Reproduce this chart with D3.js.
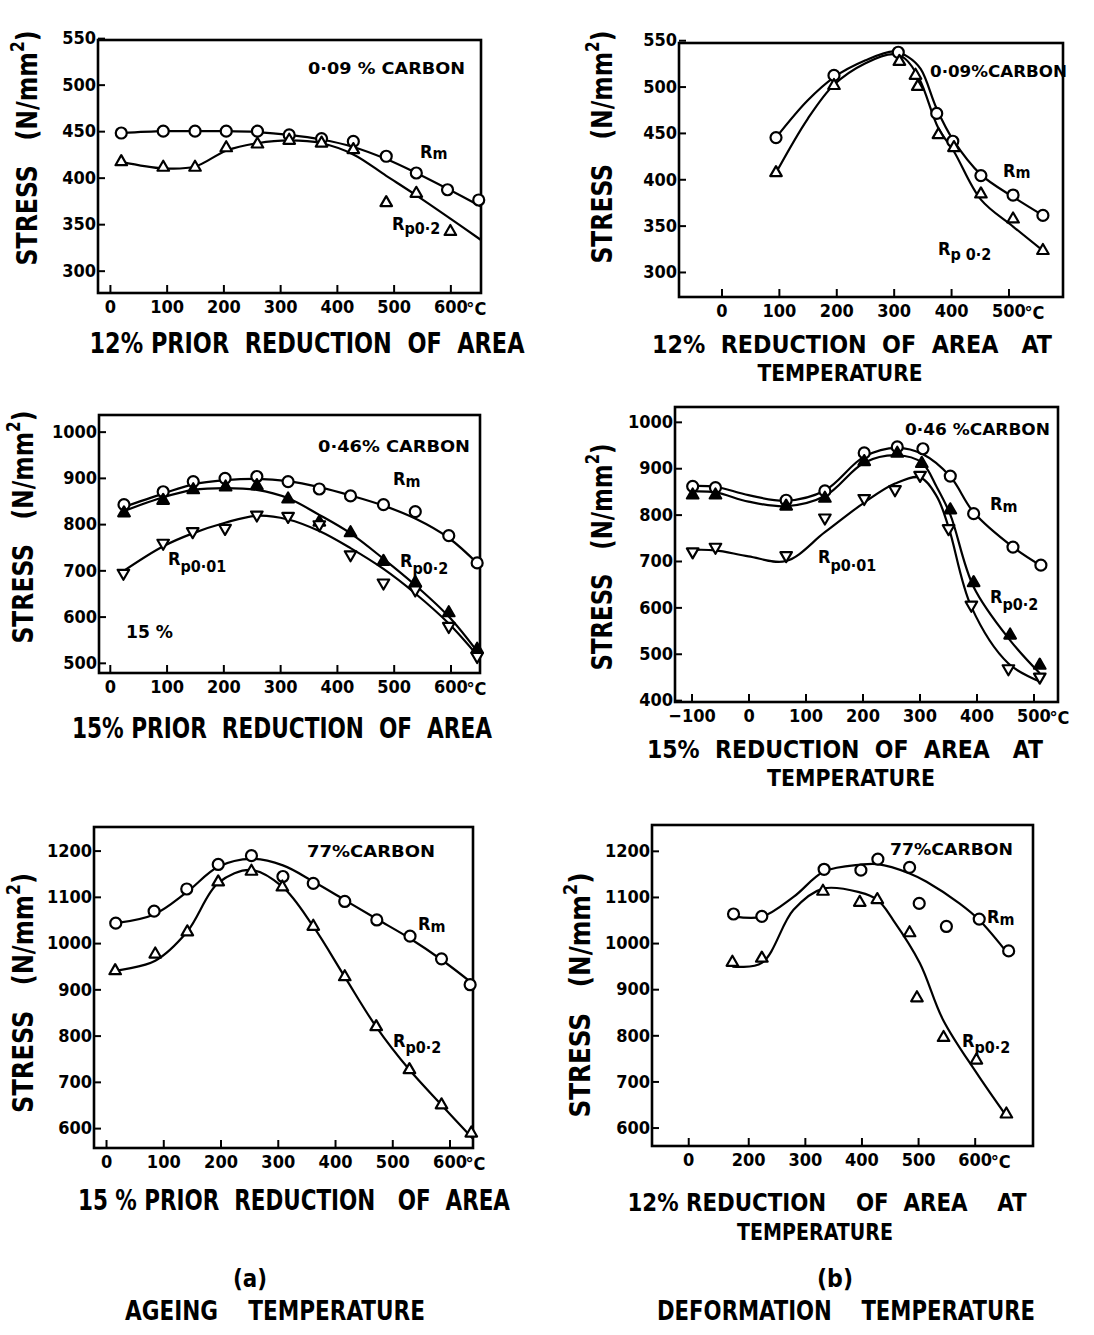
<!DOCTYPE html>
<html>
<head>
<meta charset="utf-8">
<script src="https://cdn.jsdelivr.net/npm/d3@7"></script>
<style>
  body { margin: 0; background: #fff; }
  svg text {
    font-family: "DejaVu Sans Condensed", "DejaVu Sans", sans-serif;
    font-weight: bold;
    font-stretch: condensed;
    fill: #000;
    white-space: pre;
  }
</style>
</head>
<body>
<svg id="fig" width="1094" height="1335"></svg>
<script>
'use strict';

// ---- tick values ----
var a1XTicks = [0, 100, 200, 300, 400, 500, 600];
var a1YTicks = [300, 350, 400, 450, 500, 550];
var b1XTicks = [0, 100, 200, 300, 400, 500];
var b1YTicks = [300, 350, 400, 450, 500, 550];
var a2XTicks = [0, 100, 200, 300, 400, 500, 600];
var a2YTicks = [500, 600, 700, 800, 900, 1000];
var b2XTicks = [-100, 0, 100, 200, 300, 400, 500];
var b2YTicks = [400, 500, 600, 700, 800, 900, 1000];
var a3XTicks = [0, 100, 200, 300, 400, 500, 600];
var a3YTicks = [600, 700, 800, 900, 1000, 1100, 1200];
var b3XTicks = [94, 200, 300, 400, 500, 600];
var b3XTickLabels = ["0", "200", "300", "400", "500", "600"];
var b3YTicks = [600, 700, 800, 900, 1000, 1100, 1200];

// ---- 0.09 % carbon, prior reduction (temp, stress) ----
var a1RmPts = [[20,448],[94,450],[150,450],[205,450],[260,450],[316,446],[373,442],[429,439],[487,423],[540,405],[595,387],[650,376]];
var a1RmCurve = [[20,448],[94,450],[150,450],[205,450],[260,449],[316,446],[373,441],[429,433],[487,420],[540,405],[595,388],[654,369]];
var a1Rp02Pts = [[20,417],[94,411],[150,411],[205,432],[260,436],[316,440],[373,437],[429,430],[487,373],[540,383],[600,342]];
var a1Rp02Curve = [[20,417],[94,410],[150,412],[205,429],[260,437],[316,440],[373,437],[429,425],[487,402],[540,381],[600,356],[654,333]];

// ---- 0.09 % carbon, at temperature ----
var b1RmPts = [[95,445],[196,512],[308,537],[375,471],[403,441],[452,404],[508,383],[560,361]];
var b1RmCurve = [[95,445],[150,485],[196,510],[250,528],[300,538],[325,532],[347,519],[375,476],[403,443],[452,405],[508,381],[560,361]];
var b1Rp02Pts = [[95,407],[196,501],[310,527],[338,512],[342,500],[378,448],[405,434],[452,384],[508,357],[560,323]];
var b1Rp02Curve = [[95,407],[150,465],[196,502],[250,525],[300,535],[320,530],[345,508],[378,455],[405,430],[452,378],[508,349],[560,323]];

// ---- 0.46 % carbon, prior reduction ----
var a2RmPts = [[25,842],[94,870],[147,892],[203,899],[259,903],[314,892],[369,876],[424,861],[482,842],[538,827],[597,775],[647,716]];
var a2RmCurve = [[20,835],[94,866],[147,886],[203,895],[259,898],[314,893],[369,880],[424,862],[482,840],[538,812],[597,770],[650,712]];
var a2Rp02Pts = [[25,824],[94,851],[147,874],[204,880],[259,883],[314,854],[369,804],[424,781],[482,719],[538,673],[597,608],[647,529]];
var a2Rp02Curve = [[20,826],[94,858],[147,874],[204,878],[259,874],[314,856],[369,820],[424,780],[482,725],[538,668],[597,600],[650,520]];
var a2Rp001Pts = [[24,694],[94,759],[146,784],[203,791],[259,820],[314,817],[369,799],[424,734],[482,673],[538,658],[597,579],[647,514]];
var a2Rp001Curve = [[20,695],[94,752],[146,780],[203,803],[259,818],[314,810],[369,785],[424,748],[482,703],[538,650],[597,585],[650,512]];

// ---- 0.46 % carbon, at temperature ----
var b2RmPts = [[-98,861],[-58,858],[66,831],[134,851],[203,933],[261,946],[306,942],[354,883],[395,802],[464,730],[513,691]];
var b2RmCurve = [[-98,862],[-58,860],[0,842],[66,830],[134,852],[203,925],[261,944],[306,930],[354,882],[395,805],[464,730],[513,690]];
var b2Rp02Pts = [[-98,842],[-58,842],[66,818],[134,835],[203,914],[261,932],[304,910],[354,810],[395,653],[459,540],[511,475]];
var b2Rp02Curve = [[-98,850],[-58,848],[0,828],[66,818],[134,840],[203,912],[261,928],[304,912],[330,860],[354,800],[395,644],[459,529],[511,458]];
var b2Rp001Pts = [[-98,720],[-58,730],[66,712],[134,793],[203,835],[257,854],[301,885],[351,770],[391,605],[456,468],[511,450]];
var b2Rp001Curve = [[-98,724],[-58,723],[0,710],[66,700],[134,762],[203,826],[257,867],[301,880],[330,840],[351,773],[391,601],[456,479],[511,440]];

// ---- 0.77 % carbon, prior reduction ----
var a3RmPts = [[17,1043],[84,1069],[141,1117],[196,1170],[254,1189],[309,1144],[362,1129],[417,1090],[473,1050],[531,1015],[586,966],[636,910]];
var a3RmCurve = [[17,1043],[84,1062],[141,1110],[196,1165],[254,1182],[309,1168],[362,1133],[417,1093],[473,1052],[531,1010],[586,964],[641,912]];
var a3Rp02Pts = [[16,940],[86,976],[142,1024],[196,1132],[254,1155],[308,1121],[362,1036],[417,927],[472,819],[530,726],[586,650],[638,589]];
var a3Rp02Curve = [[16,940],[86,962],[142,1025],[196,1130],[254,1158],[308,1122],[362,1036],[417,927],[472,819],[530,726],[586,650],[641,577]];

// ---- 0.77 % carbon, at temperature ----
var b3RmPts = [[174,1063],[224,1058],[334,1160],[399,1158],[429,1182],[485,1164],[502,1086],[550,1036],[608,1052],[660,983]];
var b3RmCurve = [[174,1058],[224,1057],[280,1100],[334,1155],[399,1170],[429,1171],[485,1151],[515,1133],[573,1086],[608,1050],[660,975]];
var b3Rp02Pts = [[172,958],[224,967],[332,1112],[397,1088],[428,1094],[485,1022],[498,881],[545,795],[603,746],[656,629]];
var b3Rp02Curve = [[172,949],[224,957],[280,1072],[332,1118],[397,1110],[428,1094],[456,1050],[503,957],[544,834],[603,719],[656,625]];

var panels = [
  { box: [98, 40, 481, 293], xDom: [-21, 654], yDom: [276, 548],
    xTicks: a1XTicks, yTicks: a1YTicks,
    series: [[a1RmCurve, a1RmPts, "circle"], [a1Rp02Curve, a1Rp02Pts, "tri"]],
    ytitle: [27, 148, 235], xtitle: [["12% PRIOR  REDUCTION  OF  AREA", 307, 353, 435]],
    carbon: ["0·09 % CARBON", 308, 74, 157],
    labels: [["m", 420, 158, 1], ["p0·2", 392, 230, 4]] },
  { box: [679, 43, 1063, 297], xDom: [-74, 595], yDom: [273, 547],
    xTicks: b1XTicks, yTicks: b1YTicks,
    series: [[b1RmCurve, b1RmPts, "circle"], [b1Rp02Curve, b1Rp02Pts, "tri"]],
    ytitle: [602, 147, 233],
    xtitle: [["12%  REDUCTION  OF  AREA   AT", 852, 353, 400], ["TEMPERATURE", 840, 381, 165]],
    carbon: ["0·09%CARBON", 930, 77, 137],
    labels: [["m", 1003, 177, 1], ["p 0·2", 938, 255, 5]] },
  { box: [99, 415, 480, 673], xDom: [-19, 652], yDom: [478, 1036],
    xTicks: a2XTicks, yTicks: a2YTicks,
    series: [[a2RmCurve, a2RmPts, "circle"], [a2Rp02Curve, a2Rp02Pts, "triFill"], [a2Rp001Curve, a2Rp001Pts, "inv"]],
    ytitle: [23, 527, 233], xtitle: [["15% PRIOR  REDUCTION  OF  AREA", 282, 738, 420]],
    carbon: ["0·46% CARBON", 318, 452, 152],
    labels: [["m", 393, 485, 2], ["p0·01", 168, 565, 7], ["p0·2", 400, 567, 7]],
    extra: ["15 %", 126, 638, 47] },
  { box: [675, 407, 1058, 702], xDom: [-129, 543], yDom: [396, 1032],
    xTicks: b2XTicks, yTicks: b2YTicks,
    series: [[b2RmCurve, b2RmPts, "circle"], [b2Rp02Curve, b2Rp02Pts, "triFill"], [b2Rp001Curve, b2Rp001Pts, "inv"]],
    ytitle: [602, 557, 227],
    xtitle: [["15%  REDUCTION  OF  AREA   AT", 845, 758, 396], ["TEMPERATURE", 851, 786, 168]],
    carbon: ["0·46 %CARBON", 905, 435, 145],
    labels: [["m", 990, 510, 2], ["p0·01", 818, 563, 8], ["p0·2", 990, 603, 7]] },
  { box: [94, 827, 473, 1148], xDom: [-21, 641], yDom: [557, 1251],
    xTicks: a3XTicks, yTicks: a3YTicks,
    series: [[a3RmCurve, a3RmPts, "circle"], [a3Rp02Curve, a3Rp02Pts, "tri"]],
    ytitle: [23, 993, 240], xtitle: [["15 % PRIOR  REDUCTION   OF  AREA", 294, 1210, 432]],
    carbon: ["77%CARBON", 307, 857, 128],
    labels: [["m", 418, 930, 2], ["p0·2", 393, 1047, 6]] },
  { box: [652, 825, 1033, 1146], xDom: [30, 703], yDom: [560, 1256],
    xTicks: b3XTicks, xLabels: b3XTickLabels, yTicks: b3YTicks,
    series: [[b3RmCurve, b3RmPts, "circle"], [b3Rp02Curve, b3Rp02Pts, "tri"]],
    ytitle: [580, 995, 245],
    xtitle: [["12% REDUCTION    OF  AREA    AT", 827, 1211, 399], ["TEMPERATURE", 815, 1240, 156]],
    carbon: ["77%CARBON", 890, 855, 123],
    labels: [["m", 987, 923, 2], ["p0·2", 962, 1047, 6]] }
];

var svg = d3.select("#fig").attr("xml:space", "preserve");
svg.append("rect").attr("width", 1094).attr("height", 1335).attr("fill", "#fff");

var line = d3.line().curve(d3.curveCatmullRom.alpha(0.5));

function drawMarker(g, kind, px, py) {
  if (kind === "circle") {
    g.append("circle").attr("cx", px).attr("cy", py).attr("r", 5.5)
      .attr("fill", "#fff").attr("stroke", "#000").attr("stroke-width", 2.2);
    return;
  }
  var sym = d3.symbol().type(d3.symbolTriangle).size(58);
  g.append("path").attr("d", sym())
    .attr("transform", "translate(" + px + "," + py + ")" + (kind === "inv" ? " rotate(180)" : ""))
    .attr("fill", kind === "triFill" ? "#000" : "#fff")
    .attr("stroke", "#000").attr("stroke-width", 2.2).attr("stroke-linejoin", "round");
}

panels.forEach(function (p) {
  var L = p.box[0], T = p.box[1], R = p.box[2], B = p.box[3];
  var x = d3.scaleLinear().domain(p.xDom).range([L, R]);
  var y = d3.scaleLinear().domain(p.yDom).range([B, T]);
  var g = svg.append("g");

  // axes: ticks point inward, labels outside
  var xa = g.append("g").attr("transform", "translate(0," + B + ")")
    .call(d3.axisBottom(x).tickValues(p.xTicks).tickSizeInner(-8).tickSizeOuter(0).tickPadding(7)
      .tickFormat(function (d, i) { return p.xLabels ? p.xLabels[i] : String(d).replace("-", "\u2212"); }));
  var ya = g.append("g").attr("transform", "translate(" + L + ",0)")
    .call(d3.axisLeft(y).tickValues(p.yTicks).tickSizeInner(-7).tickSizeOuter(0).tickPadding(2)
      .tickFormat(d3.format("d")));
  [xa, ya].forEach(function (a) {
    a.attr("font-size", 18).attr("font-family", null);
    a.select(".domain").remove();
    a.selectAll(".tick line").attr("stroke-width", 2);
  });
  var last = p.xTicks[p.xTicks.length - 1];
  g.append("text").attr("x", x(last) + 16).attr("y", B + 22).attr("font-size", 18).text("°C");

  // frame
  g.append("rect").attr("x", L).attr("y", T).attr("width", R - L).attr("height", B - T)
    .attr("fill", "none").attr("stroke", "#000").attr("stroke-width", 2.6);

  // curves and markers
  p.series.forEach(function (s) {
    g.append("path").attr("d", line(s[0].map(function (d) { return [x(d[0]), y(d[1])]; })))
      .attr("fill", "none").attr("stroke", "#000").attr("stroke-width", 2.2);
  });
  p.series.forEach(function (s) {
    s[1].forEach(function (d) { drawMarker(g, s[2], x(d[0]), y(d[1])); });
  });

  // y title
  var yt = g.append("text")
    .attr("transform", "translate(" + p.ytitle[0] + "," + p.ytitle[1] + ") rotate(-90)")
    .attr("text-anchor", "middle").attr("dominant-baseline", "central")
    .attr("font-size", 29).attr("textLength", p.ytitle[2]).attr("lengthAdjust", "spacingAndGlyphs");
  yt.append("tspan").text("STRESS   (N/mm");
  yt.append("tspan").attr("font-size", 19).attr("dy", -10).text("2");
  yt.append("tspan").attr("dy", 10).text(")");

  // x title; two-line titles use a smaller first line so it stays inside the page
  var twoLine = p.xtitle.length > 1;
  p.xtitle.forEach(function (t, i) {
    g.append("text").attr("x", t[1]).attr("y", t[2]).attr("text-anchor", "middle")
      .attr("font-size", i === 0 ? (twoLine ? 25 : 28) : 23)
      .attr("textLength", t[3]).attr("lengthAdjust", "spacingAndGlyphs")
      .text(t[0]);
  });

  // carbon content
  g.append("text").attr("x", p.carbon[1]).attr("y", p.carbon[2]).attr("font-size", 16)
    .attr("textLength", p.carbon[3]).attr("lengthAdjust", "spacingAndGlyphs").text(p.carbon[0]);

  // series labels R_m, R_p0.2 ...
  p.labels.forEach(function (l) {
    var t = g.append("text").attr("x", l[1]).attr("y", l[2]).attr("font-size", 18);
    t.append("tspan").text("R");
    t.append("tspan").attr("font-size", 16).attr("dy", l[3]).text(l[0]);
  });

  if (p.extra) {
    g.append("text").attr("x", p.extra[1]).attr("y", p.extra[2]).attr("font-size", 18)
      .attr("textLength", p.extra[3]).attr("lengthAdjust", "spacingAndGlyphs").text(p.extra[0]);
  }
});

// captions
var captions = [["(a)", 250, 1287, 34, 24], ["AGEING    TEMPERATURE", 275, 1320, 300, 27],
                ["(b)", 835, 1287, 36, 24], ["DEFORMATION    TEMPERATURE", 846, 1320, 378, 27]];
captions.forEach(function (c) {
  svg.append("text").attr("x", c[1]).attr("y", c[2]).attr("text-anchor", "middle")
    .attr("font-size", c[4]).attr("textLength", c[3]).attr("lengthAdjust", "spacingAndGlyphs").text(c[0]);
});
</script>
</body>
</html>
